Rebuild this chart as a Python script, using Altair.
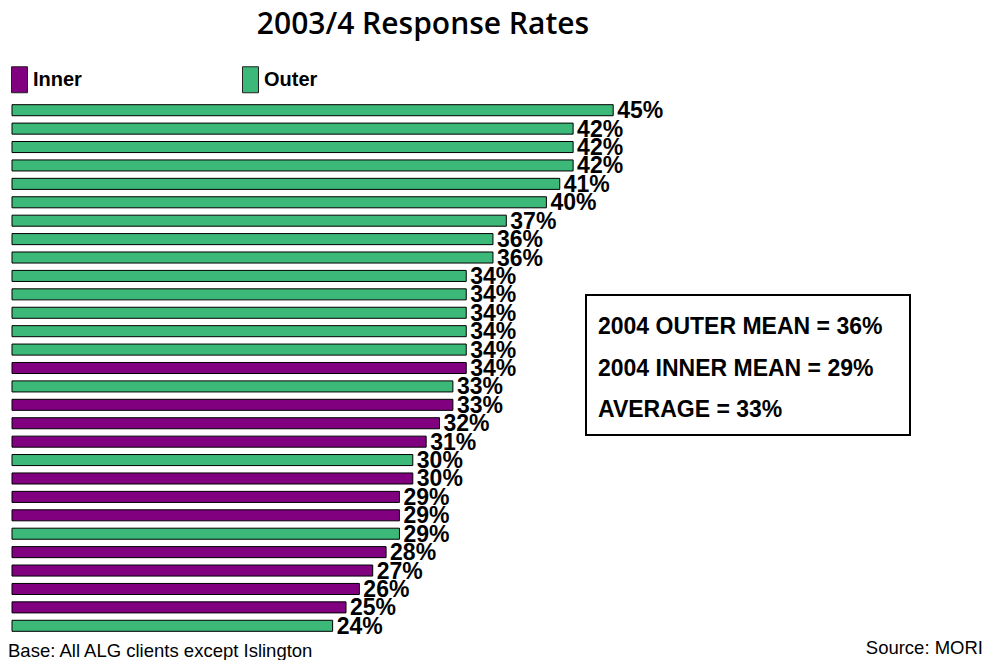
import altair as alt
import pandas as pd

# Response rate per client authority, in display order (top to bottom)
rates = [45, 42, 42, 42, 41, 40, 37, 36, 36, 34, 34, 34, 34, 34, 34,
         33, 33, 32, 31, 30, 30, 29, 29, 29, 28, 27, 26, 25, 24]
groups = ["Outer", "Outer", "Outer", "Outer", "Outer", "Outer", "Outer",
          "Outer", "Outer", "Outer", "Outer", "Outer", "Outer", "Outer",
          "Inner", "Outer", "Inner", "Inner", "Inner", "Outer", "Inner",
          "Inner", "Inner", "Outer", "Inner", "Inner", "Inner", "Inner",
          "Outer"]
group_names = ["Inner", "Outer"]
group_colors = ["#800080", "#3cb878"]

summary_lines = ["2004 OUTER MEAN = 36%", "2004 INNER MEAN = 29%", "AVERAGE = 33%"]

df = pd.DataFrame({
    "row": [f"c{i:02d}" for i in range(len(rates))],
    "rate": rates,
    "group": groups,
})
df["label"] = df["rate"].astype(str) + "%"

W, H = 668, 534
LEFT, TOP = 12, 101

y_enc = alt.Y("row:N", sort=None, axis=None,
              scale=alt.Scale(paddingInner=0.4, paddingOuter=0.2))
x_enc = alt.X("rate:Q", axis=None, scale=alt.Scale(domain=[0, 50], nice=False))

bars = alt.Chart(df).mark_bar(stroke="black", strokeWidth=1).encode(
    x=x_enc,
    y=y_enc,
    color=alt.Color(
        "group:N",
        scale=alt.Scale(domain=group_names, range=group_colors),
        legend=alt.Legend(
            title=None,
            orient="none",
            direction="horizontal",
            legendX=-6,
            legendY=-35,
            padding=0,
            symbolType="M-0.615,-1H0.615V1H-0.615Z",
            symbolSize=676,
            symbolStrokeColor="#222222",
            symbolStrokeWidth=1,
            symbolOpacity=1,
            labelFont="Liberation Sans",
            labelFontWeight="bold",
            labelFontSize=20,
            labelColor="black",
            labelOffset=0,
            columnPadding=155,
        ),
    ),
)

labels = alt.Chart(df).mark_text(
    align="left", baseline="middle", dx=4, dy=1,
    font="Liberation Sans", fontWeight="bold", fontSize=23, color="black",
).encode(x=x_enc, y=y_enc, text="label:N")

title = alt.Chart(pd.DataFrame({"t": ["2003/4 Response Rates"]})).mark_text(
    align="center", baseline="middle", font="Open Sans",
    fontWeight=600, fontSize=30, color="black",
).encode(x=alt.value(411), y=alt.value(-76), text="t:N")

box = alt.Chart(pd.DataFrame({"a": [0]})).mark_rect(
    fill="white", stroke="black", strokeWidth=2,
).encode(x=alt.value(574), x2=alt.value(898), y=alt.value(194), y2=alt.value(334))

summary = alt.Chart(pd.DataFrame({
    "line": summary_lines, "k": [0, 1, 2],
})).mark_text(
    align="left", baseline="middle", font="Liberation Sans",
    fontWeight="bold", fontSize=23, color="black",
).encode(
    x=alt.value(586),
    y=alt.Y("k:Q", axis=None, scale=alt.Scale(domain=[0, 2], range=[226, 309])),
    text="line:N",
)

base_note = alt.Chart(pd.DataFrame({"t": ["Base: All ALG clients except Islington"]})).mark_text(
    align="left", baseline="middle", font="Liberation Sans", fontSize=18.5, color="black",
).encode(x=alt.value(-4), y=alt.value(550), text="t:N")

source_note = alt.Chart(pd.DataFrame({"t": ["Source: MORI"]})).mark_text(
    align="right", baseline="middle", font="Liberation Sans", fontSize=18.5, color="black",
).encode(x=alt.value(971), y=alt.value(547), text="t:N")

chart = alt.layer(bars, labels, title, box, summary, base_note, source_note).resolve_scale(
    y="independent"
).properties(
    width=W, height=H,
    padding={"left": LEFT, "top": TOP, "right": 995 - LEFT - W, "bottom": 660 - TOP - H},
    autosize=alt.AutoSizeParams(type="none"),
    background="white",
).configure_view(stroke=None)

chart.save("out.html", embed_options={"renderer": "svg", "actions": False})
